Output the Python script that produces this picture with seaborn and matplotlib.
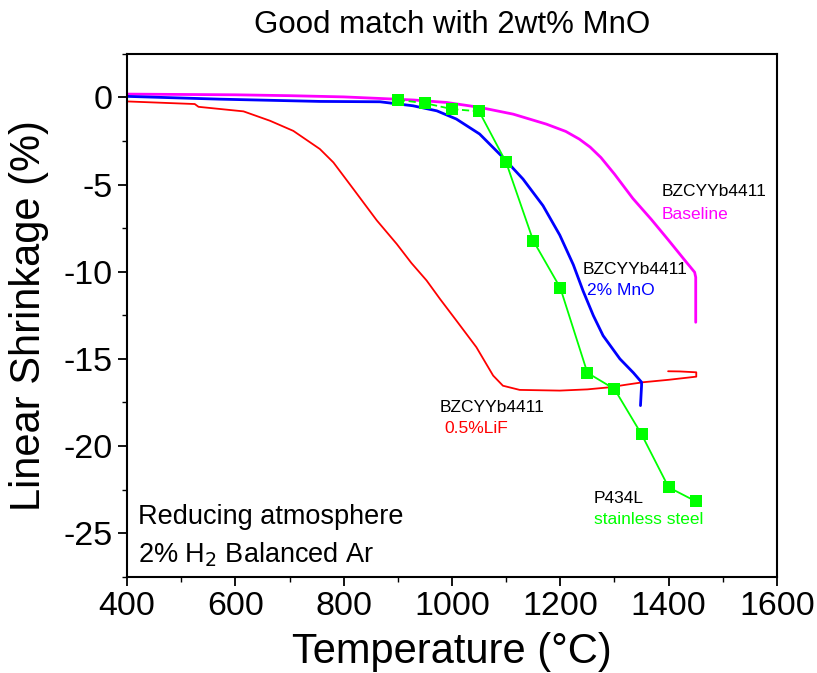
import matplotlib
matplotlib.use("Agg")
import matplotlib.pyplot as plt
from matplotlib.ticker import MultipleLocator
import seaborn as sns
import pandas as pd

# ---- data ----
baseline_T = [400, 500, 600, 700, 800, 867, 930, 990, 1051, 1113, 1174, 1210, 1235, 1255, 1275,
              1300, 1334, 1368, 1400, 1430, 1448, 1450, 1450, 1450]
baseline_S = [0.19, 0.17, 0.15, 0.1, 0.03, -0.06, -0.15, -0.29, -0.57, -0.96, -1.53, -1.95, -2.39,
              -2.85, -3.45, -4.4, -5.8, -7.0, -8.2, -9.35, -10.03, -10.32, -11.5, -12.9]

mno_T = [400, 571, 756, 867, 928, 972, 1008, 1051, 1094, 1131, 1168, 1199, 1224, 1242, 1261,
         1279, 1310, 1335, 1350, 1350, 1349, 1348]
mno_S = [0.06, -0.1, -0.23, -0.25, -0.48, -0.77, -1.24, -2.1, -3.44, -4.68, -6.21, -7.9, -9.6,
         -11.1, -12.52, -13.67, -15.0, -15.8, -16.34, -16.53, -17.1, -17.68]

lif_T = [400, 525, 532, 615, 664, 707, 756, 781, 818, 861, 898, 925, 953, 978, 1008, 1045, 1076,
         1094, 1125, 1199, 1250, 1291, 1322, 1353, 1400, 1451, 1451, 1420, 1399]
lif_S = [-0.23, -0.38, -0.54, -0.8, -1.34, -1.92, -2.96, -3.73, -5.26, -7.05, -8.41, -9.5, -10.5,
         -11.57, -12.8, -14.33, -15.96, -16.54, -16.78, -16.82, -16.75, -16.63, -16.48, -16.34,
         -16.2, -16.02, -15.77, -15.72, -15.71]

steel_T = [900, 950, 1000, 1050, 1100, 1150, 1200, 1250, 1300, 1350, 1400, 1450]
steel_S = [-0.14, -0.33, -0.67, -0.8, -3.73, -8.22, -10.93, -15.8, -16.73, -19.33, -22.37, -23.17]

xticks = [400, 600, 800, 1000, 1200, 1400, 1600]
yticks = [0, -5, -10, -15, -20, -25]

sns.set_theme(style="ticks")
plt.rcParams['font.family'] = ['Liberation Sans', 'DejaVu Sans']
plt.rcParams['axes.unicode_minus'] = False
plt.rcParams['text.color'] = 'black'
plt.rcParams['axes.labelcolor'] = 'black'
plt.rcParams['xtick.color'] = 'black'
plt.rcParams['ytick.color'] = 'black'

fig = plt.figure(figsize=(8.17, 6.73), dpi=100)
ax = fig.add_axes([0.1555, 0.143, 0.7955, 0.777])

df_b = pd.DataFrame({"T": baseline_T, "S": baseline_S})
df_m = pd.DataFrame({"T": mno_T, "S": mno_S})
df_l = pd.DataFrame({"T": lif_T, "S": lif_S})
df_s = pd.DataFrame({"T": steel_T, "S": steel_S})

sns.lineplot(data=df_l, x="T", y="S", sort=False, estimator=None, color="#FF0000", lw=1.3, ax=ax)
sns.lineplot(data=df_b, x="T", y="S", sort=False, estimator=None, color="#FF00FF", lw=2.0, ax=ax)
sns.lineplot(data=df_m, x="T", y="S", sort=False, estimator=None, color="#0000FF", lw=2.0, ax=ax)
# stainless steel: dashed for first segment, solid thereafter
sns.lineplot(data=df_s.iloc[:4], x="T", y="S", sort=False, estimator=None, color="#00FF00",
             lw=1.3, ax=ax, linestyle=(0, (4, 2)))
sns.lineplot(data=df_s.iloc[3:], x="T", y="S", sort=False, estimator=None, color="#00FF00",
             lw=1.3, ax=ax)
sns.scatterplot(data=df_s, x="T", y="S", marker="s", s=64, color="#00FF00", edgecolor="#00FF00",
                linewidth=0, ax=ax, zorder=5)

ax.set_xlim(400, 1600)
ax.set_ylim(-27.5, 2.5)
ax.set_xticks(xticks)
ax.set_yticks(yticks)
ax.xaxis.set_minor_locator(MultipleLocator(100))
ax.yaxis.set_minor_locator(MultipleLocator(2.5))
ax.tick_params(which="major", direction="out", length=6.5, width=1.3, labelsize=24.5, pad=4,
               top=False, right=False)
ax.tick_params(which="minor", direction="out", length=3.6, width=1.0, top=False, right=False)
for sp in ax.spines.values():
    sp.set_linewidth(1.5)
    sp.set_color("black")

ax.set_xlabel("Temperature (°C)", fontsize=30, labelpad=7)
ax.set_ylabel("Linear Shrinkage (%)", fontsize=30)
ax.yaxis.set_label_coords(-0.12, 0.5)
ax.set_title("Good match with 2wt% MnO", fontsize=22.5, pad=15)

fs = 12.5
ax.text(1387, -5.4, "BZCYYb4411", color="black", fontsize=fs, va="center")
ax.text(1387, -6.7, "Baseline", color="#FF00FF", fontsize=fs, va="center")
ax.text(1242, -9.9, "BZCYYb4411", color="black", fontsize=fs, va="center")
ax.text(1250, -11.1, "2% MnO", color="#0000FF", fontsize=fs, va="center")
ax.text(978, -17.8, "BZCYYb4411", color="black", fontsize=fs, va="center")
ax.text(985, -19.0, "0.5%LiF", color="#FF0000", fontsize=fs, va="center")
ax.text(1262, -23.0, "P434L", color="black", fontsize=fs, va="center")
ax.text(1262, -24.2, "stainless steel", color="#00FF00", fontsize=fs, va="center")
ax.text(420, -24.1, "Reducing atmosphere", color="black", fontsize=19.5, va="center")
ax.text(420, -26.24, "2% H$_2$ Balanced Ar", color="black", fontsize=19.5, va="center")

fig.savefig("out.png", dpi=100)
